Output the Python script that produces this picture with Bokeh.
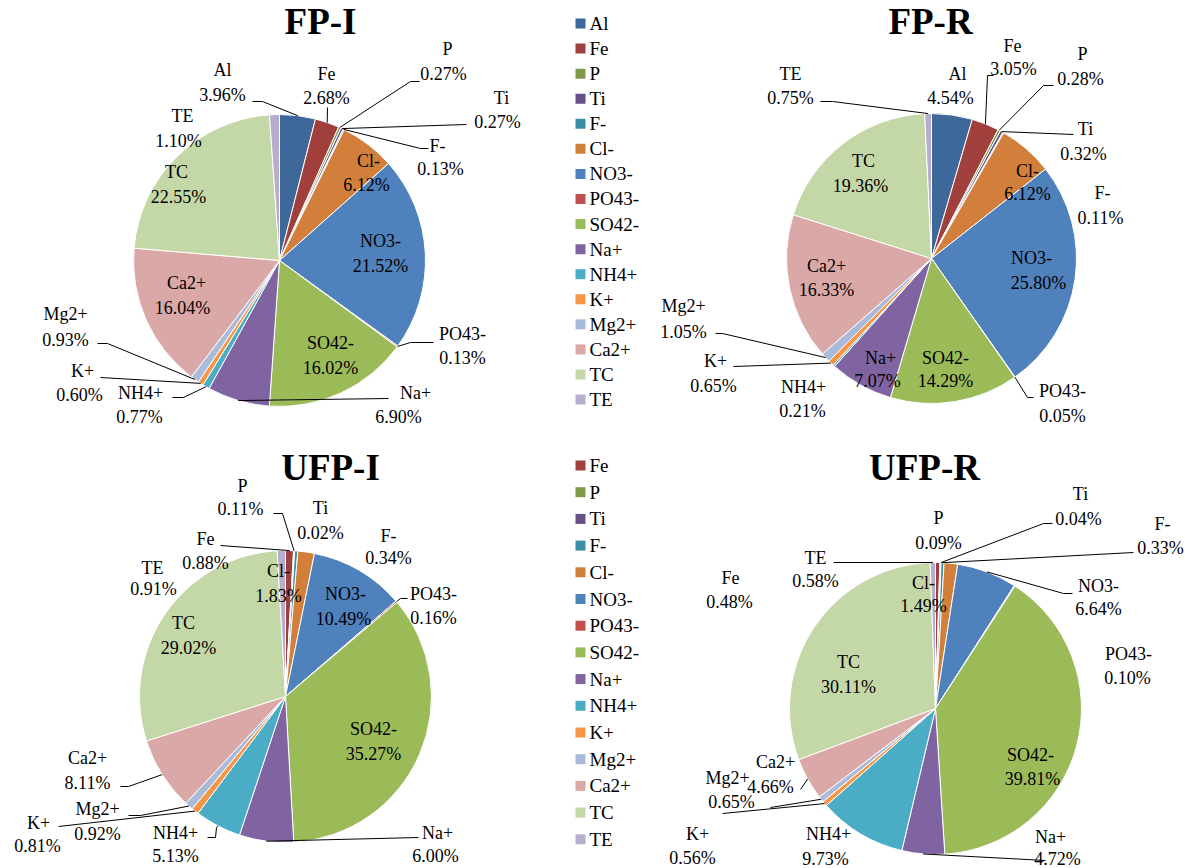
import math
from bokeh.plotting import figure
from bokeh.models import Range1d, ColumnDataSource
from bokeh.core.properties import value
from bokeh.embed import file_html
from bokeh.resources import INLINE

# ---------------- data ----------------
fine_categories = ["Al", "Fe", "P", "Ti", "F-", "Cl-", "NO3-", "PO43-", "SO42-",
                   "Na+", "NH4+", "K+", "Mg2+", "Ca2+", "TC", "TE"]
ultra_categories = ["Fe", "P", "Ti", "F-", "Cl-", "NO3-", "PO43-", "SO42-",
                    "Na+", "NH4+", "K+", "Mg2+", "Ca2+", "TC", "TE"]

fp_i_values = [3.96, 2.68, 0.27, 0.27, 0.13, 6.12, 21.52, 0.13, 16.02,
               6.90, 0.77, 0.60, 0.93, 16.04, 22.55, 1.10]
fp_r_values = [4.54, 3.05, 0.28, 0.32, 0.11, 6.12, 25.80, 0.05, 14.29,
               7.07, 0.21, 0.65, 1.05, 16.33, 19.36, 0.75]
ufp_i_values = [0.88, 0.11, 0.02, 0.34, 1.83, 10.49, 0.16, 35.27,
                6.00, 5.13, 0.81, 0.92, 8.11, 29.02, 0.91]
ufp_r_values = [0.48, 0.09, 0.04, 0.33, 1.49, 6.64, 0.10, 39.81,
                4.72, 9.73, 0.56, 0.65, 4.66, 30.11, 0.58]

titles = ["FP-I", "FP-R", "UFP-I", "UFP-R"]

# ---------------- styles ----------------
COLORS = {
    "Al": "#3D6899", "Fe": "#A13F3D", "P": "#7F9B47", "Ti": "#674F88",
    "F-": "#3A8FA4", "Cl-": "#D17F3B", "NO3-": "#4F81BD", "PO43-": "#C0504D",
    "SO42-": "#9BBB59", "Na+": "#8064A2", "NH4+": "#4BACC6", "K+": "#F79646",
    "Mg2+": "#A9BADB", "Ca2+": "#DAA8A7", "TC": "#C4D7A6", "TE": "#B8ADCC",
}
FONT = value("Liberation Serif")
LABEL_SIZE = "18px"
LEGEND_SIZE = "19px"
TITLE_SIZE = "37px"

W, H = 1185, 868


def Y(py):
    # reference-pixel y (top-down) -> data y (bottom-up)
    return H - py


# ---------------- layout (reference pixel coordinates) ----------------
pies = [
    dict(title=titles[0], names=fine_categories, vals=fp_i_values, c=(279, 260), r=146,
         tpos=(320, 21),
         labels={
             "Al": (222, 69, 222, 94), "Fe": (326, 73, 326, 97), "P": (447, 48, 443, 73),
             "Ti": (501, 97, 497, 121), "F-": (437, 145, 440, 168), "Cl-": (368, 160, 366, 184),
             "NO3-": (380, 240, 380, 265), "PO43-": (462, 333, 462, 357),
             "SO42-": (330, 342, 330, 367), "Na+": (415, 392, 398, 416),
             "NH4+": (140, 392, 139, 416), "K+": (82, 370, 79, 394),
             "Mg2+": (65, 313, 65, 339), "Ca2+": (186, 282, 182, 307),
             "TC": (176, 171, 178, 196), "TE": (182, 115, 178, 140)},
         leaders={
             "Al": [(262, 101), (252, 101)], "Fe": [(327, 107)],
             "P": [(410, 81), (419, 81)], "Ti": [(466, 124)],
             "F-": [(420, 148), (428, 148)], "PO43-": [(410, 342), (433, 342)],
             "Na+": [(388, 398)], "NH4+": [(183, 397), (172, 397)],
             "K+": [(100, 377)], "Mg2+": [(107, 343), (97, 343)]}),
    dict(title=titles[1], names=fine_categories, vals=fp_r_values, c=(931, 258), r=145,
         tpos=(930, 21),
         labels={
             "Al": (957, 73, 950, 97), "Fe": (1012, 45, 1013, 68), "P": (1082, 53, 1080, 78),
             "Ti": (1085, 128, 1083, 153), "F-": (1102, 192, 1100, 217),
             "Cl-": (1027, 170, 1027, 193), "NO3-": (1031, 257, 1038, 282),
             "PO43-": (1062, 390, 1062, 415), "SO42-": (945, 357, 945, 380),
             "Na+": (880, 357, 877, 380), "NH4+": (803, 386, 802, 410),
             "K+": (715, 360, 713, 385), "Mg2+": (683, 305, 683, 331),
             "Ca2+": (826, 265, 826, 289), "TC": (863, 160, 860, 185),
             "TE": (790, 73, 790, 97)},
         leaders={
             "Fe": [(987, 75), (993, 75)], "P": [(1043, 85), (1053, 85)],
             "Ti": [(1073, 134)], "TE": [(832, 101), (820, 101)],
             "PO43-": [(1027, 397), (1033, 397)], "K+": [(733, 366)],
             "Mg2+": [(722, 333), (715, 333)]}),
    dict(title=titles[2], names=ultra_categories, vals=ufp_i_values, c=(285, 696), r=146,
         tpos=(330, 467),
         labels={
             "P": (242, 485, 240, 508), "Ti": (320, 507, 320, 532), "Fe": (205, 538, 205, 562),
             "F-": (388, 535, 388, 557), "TE": (152, 567, 153, 588), "Cl-": (278, 570, 278, 595),
             "NO3-": (345, 593, 343, 618), "PO43-": (433, 593, 433, 617),
             "SO42-": (373, 728, 373, 753), "Na+": (437, 832, 435, 855),
             "NH4+": (175, 832, 175, 855), "K+": (38, 822, 37, 845),
             "Mg2+": (97, 808, 97, 833), "Ca2+": (87, 757, 87, 782),
             "TC": (183, 622, 188, 647)},
         leaders={
             "P": [(282, 513), (273, 513)], "Fe": [(220, 545)],
             "PO43-": [(400, 598), (407, 598)], "Na+": [(418, 837)],
             "NH4+": [(216, 827), (215, 837), (207, 837)], "K+": [(58, 826)],
             "Mg2+": [(140, 815), (128, 815)], "Ca2+": [(128, 786), (120, 786)]}),
    dict(title=titles[3], names=ultra_categories, vals=ufp_r_values, c=(935, 708), r=146,
         tpos=(924, 467),
         labels={
             "Ti": (1080, 493, 1078, 518), "F-": (1162, 523, 1160, 547),
             "P": (938, 517, 938, 542), "TE": (815, 557, 815, 580),
             "Fe": (730, 577, 729, 601), "Cl-": (923, 582, 923, 605),
             "NO3-": (1098, 585, 1098, 608), "PO43-": (1128, 653, 1127, 677),
             "SO42-": (1030, 754, 1032, 778), "Na+": (1050, 836, 1057, 858),
             "NH4+": (828, 833, 825, 858), "K+": (697, 833, 692, 857),
             "Mg2+": (727, 777, 731, 801), "Ca2+": (775, 761, 770, 786),
             "TC": (848, 661, 848, 686)},
         leaders={
             "Ti": [(1043, 523), (1052, 523)], "F-": [(1133, 552)],
             "TE": [(833, 562)], "NO3-": [(1063, 593), (1072, 593)],
             "Na+": [(1045, 860)], "Mg2+": [(770, 807)], "K+": [(722, 813)],
             "Ca2+": [(800, 789)]}),
]

legends = [
    dict(names=fine_categories, x=580, y0=23, dy=25.07),
    dict(names=ultra_categories, x=580, y0=465, dy=26.7),
]

# ---------------- figure ----------------
p = figure(width=W, height=H, x_range=Range1d(0, W), y_range=Range1d(0, H),
           output_backend="svg", toolbar_location=None, min_border=0)
p.axis.visible = False
p.grid.visible = False
p.outline_line_color = None
p.background_fill_color = "white"

for pie in pies:
    names, vals = pie["names"], pie["vals"]
    total = sum(vals)
    cx, cy = pie["c"][0], Y(pie["c"][1])
    r = pie["r"]
    starts, ends, mids = [], [], []
    cum = 0.0
    for v in vals:
        a0 = math.pi / 2 - 2 * math.pi * (cum + v) / total
        a1 = math.pi / 2 - 2 * math.pi * cum / total
        starts.append(a0)
        ends.append(a1)
        mids.append((a0 + a1) / 2)
        cum += v
    src = ColumnDataSource(dict(x=[cx] * len(vals), y=[cy] * len(vals), start=starts, end=ends,
                                color=[COLORS[n] for n in names]))
    p.wedge(x="x", y="y", radius=r, start_angle="start", end_angle="end", direction="anticlock",
            fill_color="color", line_color="white", line_width=1, source=src)

    # leader lines
    lx, ly = [], []
    for n, pts in pie["leaders"].items():
        i = names.index(n)
        ex = cx + r * math.cos(mids[i])
        ey = cy + r * math.sin(mids[i])
        lx.append([ex] + [q[0] for q in pts])
        ly.append([ey] + [Y(q[1]) for q in pts])
    p.multi_line(xs=lx, ys=ly, line_color="black", line_width=1)

    # labels
    tx, ty, tt = [], [], []
    for i, n in enumerate(names):
        x1, y1, x2, y2 = pie["labels"][n]
        tx += [x1, x2]
        ty += [Y(y1), Y(y2)]
        tt += [n, f"{vals[i]:.2f}%"]
    p.text(x=tx, y=ty, text=tt, text_font=FONT, text_font_size=LABEL_SIZE,
           text_align="center", text_baseline="middle", text_color="black")

    # title
    p.text(x=[pie["tpos"][0]], y=[Y(pie["tpos"][1])], text=[pie["title"]], text_font=FONT,
           text_font_size=TITLE_SIZE, text_font_style="bold", text_align="center",
           text_baseline="middle", text_color="black")

for lg in legends:
    names = lg["names"]
    ys = [Y(lg["y0"] + lg["dy"] * i) for i in range(len(names))]
    p.rect(x=[lg["x"]] * len(names), y=ys, width=10, height=10,
           fill_color=[COLORS[n] for n in names], line_color=None)
    p.text(x=[lg["x"] + 9] * len(names), y=ys, text=names, text_font=FONT,
           text_font_size=LEGEND_SIZE, text_align="left", text_baseline="middle",
           text_color="black")

open("out.html", "w").write(file_html(p, INLINE))
